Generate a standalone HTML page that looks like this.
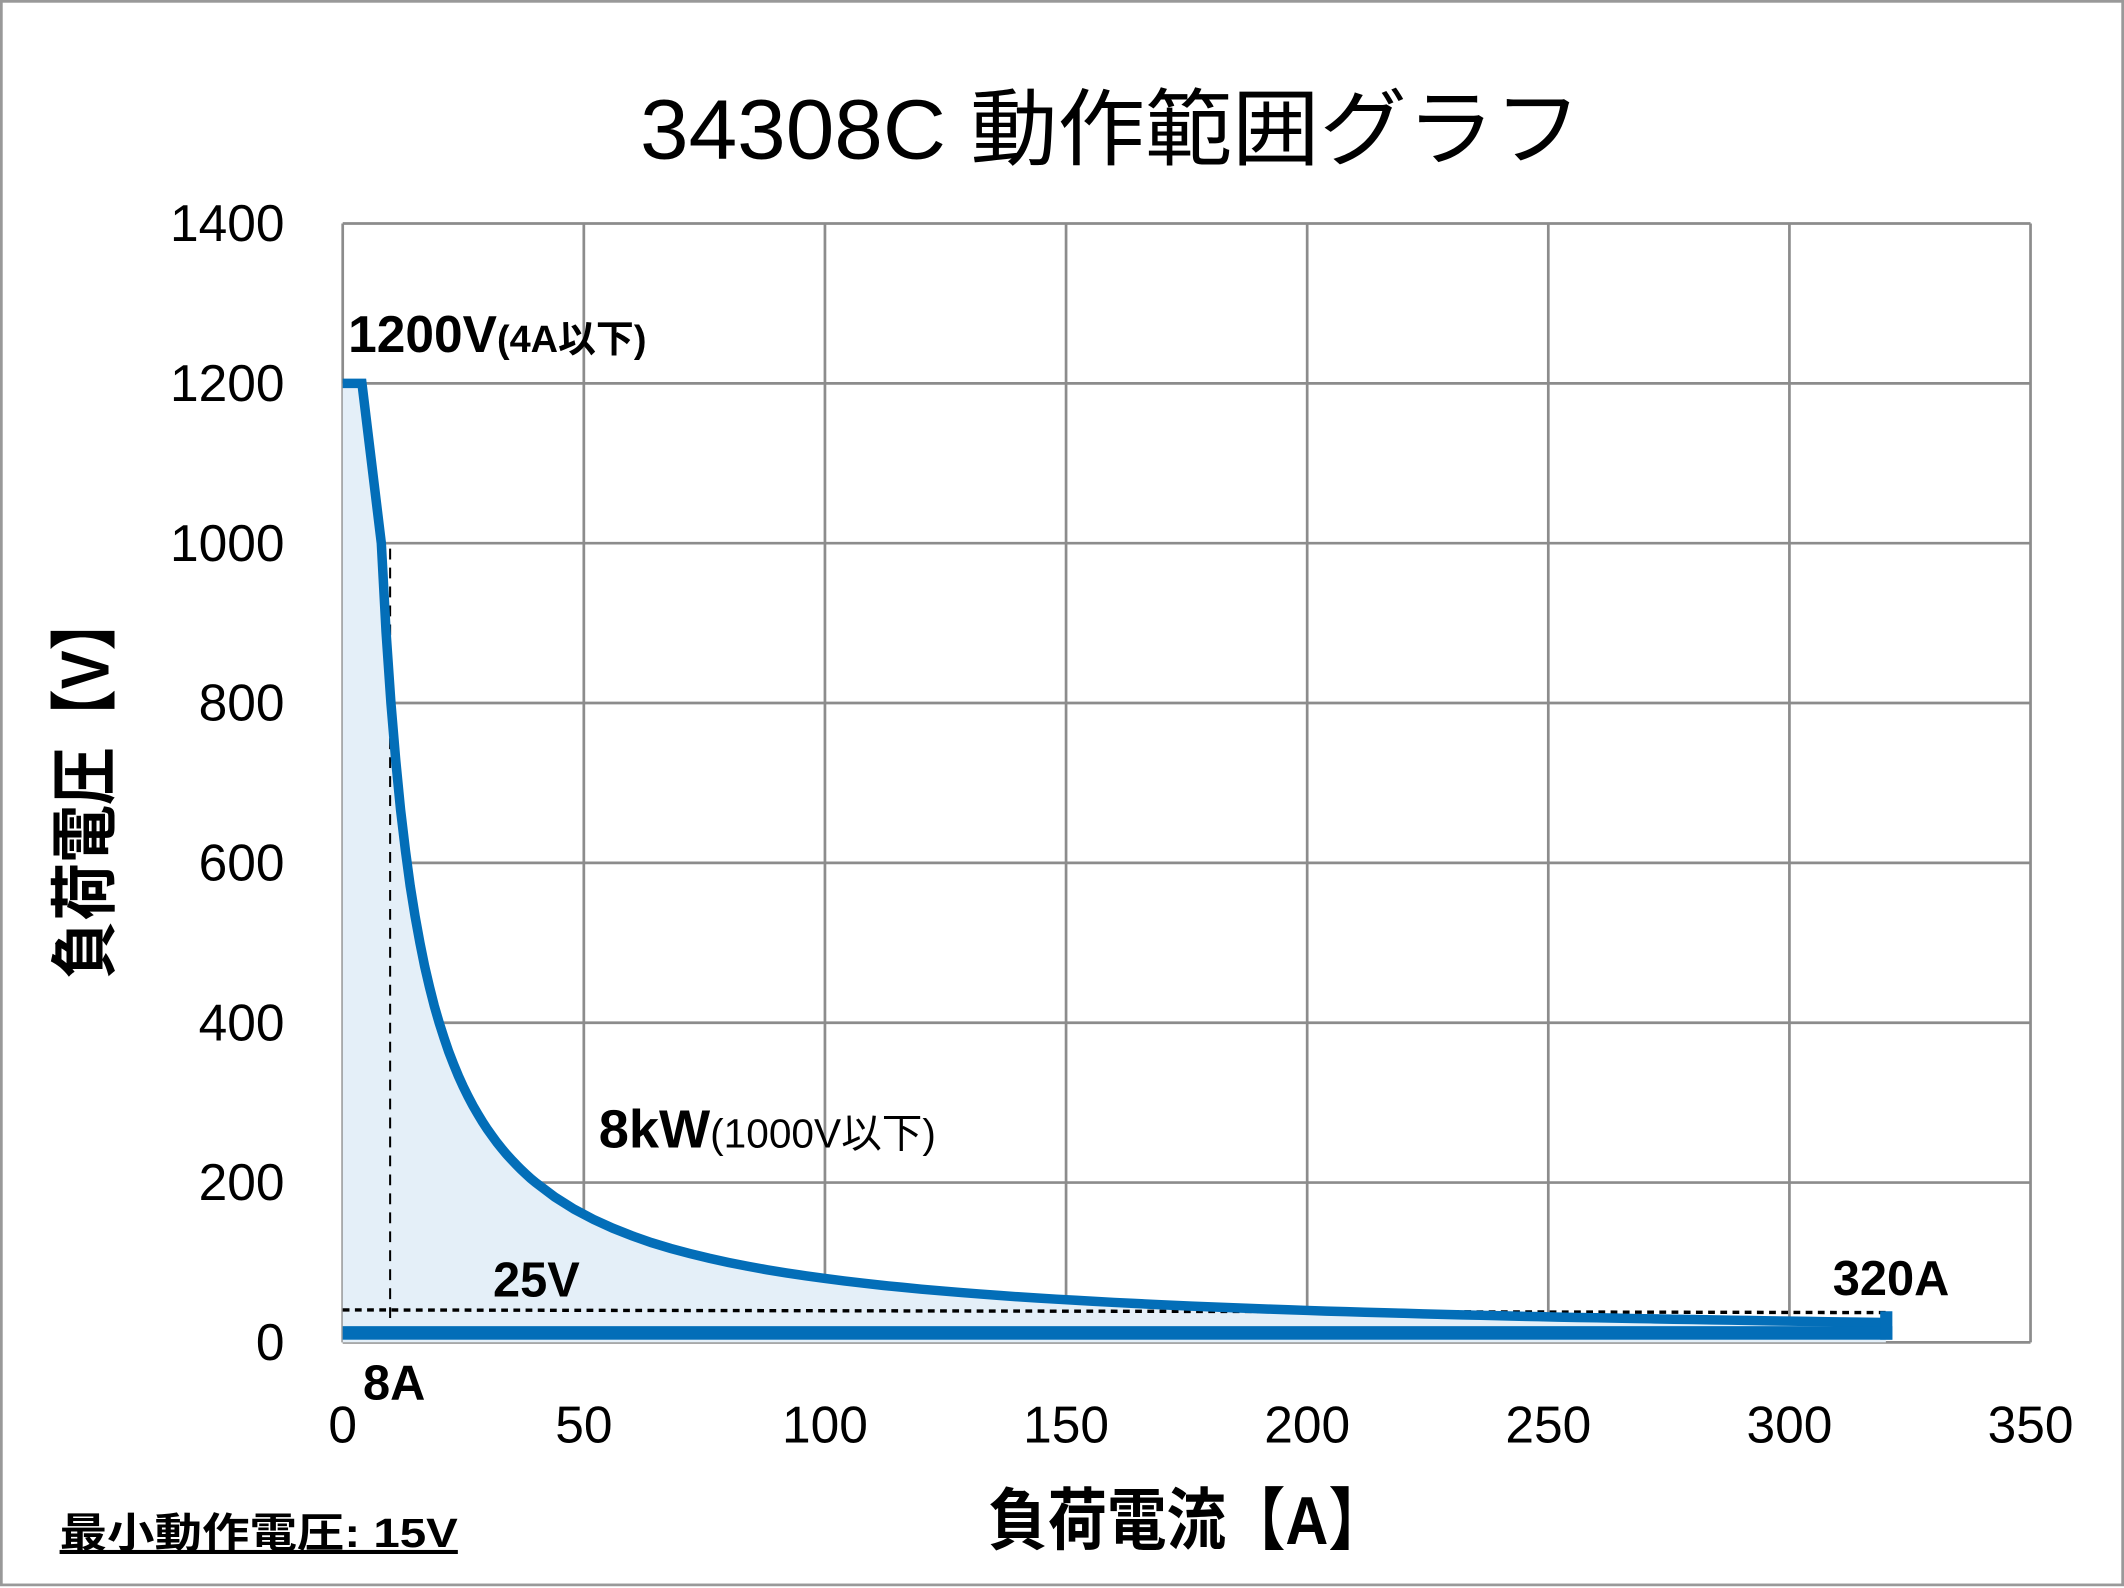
<!DOCTYPE html>
<html><head><meta charset="utf-8"><style>
html,body{margin:0;padding:0;background:#fff}
svg{display:block}
text{font-family:"Liberation Sans","Noto Sans CJK JP",sans-serif;fill:#000}
</style></head><body>
<svg id="s" width="2124" height="1588" viewBox="0 0 1568 1172.3" preserveAspectRatio="none" xmlns="http://www.w3.org/2000/svg">
<rect x="1" y="1" width="1566" height="1169" fill="#fff" stroke="#999" stroke-width="2"/>
<text x="820" y="117" font-size="62" text-anchor="middle" textLength="695" lengthAdjust="spacingAndGlyphs">34308C  動作範囲グラフ</text>
<g id="grid" stroke="#8c8c8c" stroke-width="2"></g>
<path id="fill" fill="#e4eff8" stroke="none"/>
<g id="ticks" font-size="38"></g>
<line x1="288" y1="405" x2="288" y2="978" stroke="#000" stroke-width="1.5" stroke-dasharray="8,6"/>
<line x1="253" y1="967" x2="1395" y2="969" stroke="#000" stroke-width="2.5" stroke-dasharray="5,4"/>
<path id="curve" fill="none" stroke="#036eb8" stroke-width="7" stroke-linejoin="miter"/>
<rect x="253" y="979" width="1144" height="10" fill="#036eb8"/>
<rect x="1388" y="968" width="9" height="21" fill="#036eb8"/>
<text x="257" y="260" font-size="38" font-weight="bold">1200V<tspan font-size="28">(4A以下)</tspan></text>
<text x="442" y="847" font-size="40" font-weight="bold">8kW<tspan font-size="30" font-weight="normal">(1000V以下)</tspan></text>
<text x="364" y="957" font-size="36" font-weight="bold">25V</text>
<text x="1353" y="956" font-size="36" font-weight="bold">320A</text>
<text x="268" y="1033" font-size="36" font-weight="bold">8A</text>
<text x="877" y="1140" font-size="50" font-weight="bold" text-anchor="middle" textLength="295" lengthAdjust="spacingAndGlyphs">負荷電流【A】</text>
<text transform="translate(80,580) rotate(-90)" font-size="50" font-weight="bold" text-anchor="middle" textLength="285" lengthAdjust="spacingAndGlyphs">負荷電圧【V】</text>
<text x="44" y="1142" font-size="30" font-weight="bold" text-decoration="underline" textLength="294" lengthAdjust="spacingAndGlyphs">最小動作電圧: 15V</text>
</svg>
<script>
var X=function(i){return 253+i*1246/350},Y=function(v){return 991-v*826/1400};
var g=document.getElementById('grid'),t=document.getElementById('ticks'),ns='http://www.w3.org/2000/svg';
function el(p,n,a){var e=document.createElementNS(ns,n);for(var k in a)e.setAttribute(k,a[k]);p.appendChild(e);return e}
for(var v=0;v<=1400;v+=200){el(g,'line',{x1:253,x2:1499,y1:Y(v),y2:Y(v)});var tx=el(t,'text',{x:210,y:Y(v)+13,'text-anchor':'end'});tx.textContent=v;}
for(var i=0;i<=350;i+=50){el(g,'line',{x1:X(i),x2:X(i),y1:165,y2:991});var tx=el(t,'text',{x:X(i),y:1065,'text-anchor':'middle'});tx.textContent=i;}
var pts=[[X(0),Y(1200)],[X(4),Y(1200)]];
for(var i=8;i<=320;i+=(i<40?1:4)){pts.push([X(i),Y(8000/i)]);}
var d='M'+pts.map(function(p){return p[0].toFixed(1)+','+p[1].toFixed(1)}).join(' L');
document.getElementById('curve').setAttribute('d',d);
document.getElementById('fill').setAttribute('d',d+' L'+X(320)+','+Y(0)+' L'+X(0)+','+Y(0)+' Z');
</script>
</body></html>
